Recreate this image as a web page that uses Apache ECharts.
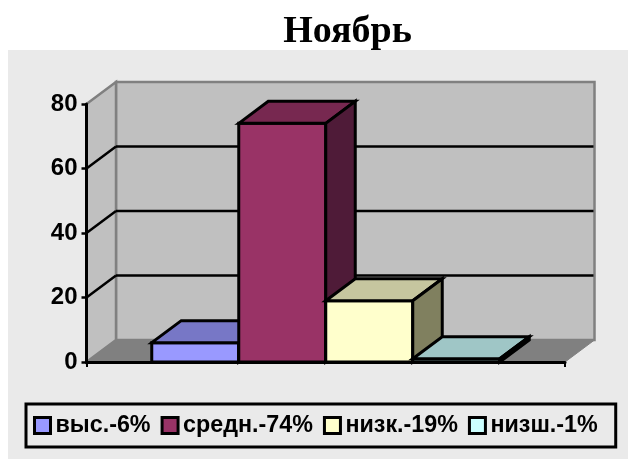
<!DOCTYPE html>
<html>
<head>
<meta charset="utf-8">
<style>
html,body{margin:0;padding:0;background:#fff;}
#main{width:628px;height:460px;}
</style>
<script src="https://cdn.jsdelivr.net/npm/echarts@6/dist/echarts.min.js"></script>
</head>
<body>
<div id="main"></div>
<script>
var titleText = 'Ноябрь';
var category = ['Ноябрь'];
var seriesNames = ['выс.-6%', 'средн.-74%', 'низк.-19%', 'низш.-1%'];
var seriesValues = [6, 74, 19, 1];
var yTicks = [20, 40, 60, 80];

// передняя, верхняя и боковая грани
var frontColors = ['#9999ff', '#993366', '#ffffcc', '#ccffff'];
var topColors = ['#7777c6', '#772850', '#c6c69f', '#9fc6c6'];
var sideColors = ['#5c5c99', '#4f1b38', '#80805f', '#668080'];

var depthX = 29.5;
var depthY = 22;
var barShare = 87 / 478.5;

var chart = echarts.init(document.getElementById('main'));

function poly(points, fill, stroke, width) {
    return {
        type: 'polygon',
        shape: { points: points },
        style: { fill: fill, stroke: stroke, lineWidth: width, lineJoin: 'miter' }
    };
}

function line(x1, y1, x2, y2, stroke, width) {
    return {
        type: 'line',
        shape: { x1: x1, y1: y1, x2: x2, y2: y2 },
        style: { stroke: stroke, lineWidth: width }
    };
}

// стены и пол
function renderWalls(params, api) {
    var left = params.coordSys.x;
    var right = left + params.coordSys.width;
    var y0 = api.coord([0, 0])[1];
    var yMax = api.coord([0, 80])[1];
    var children = [
        poly([[left + depthX, yMax - depthY], [right + depthX, yMax - depthY], [right + depthX, y0 - depthY], [left + depthX, y0 - depthY]], '#c0c0c0', '#808080', 2.5),
        poly([[left, yMax], [left + depthX, yMax - depthY], [left + depthX, y0 - depthY], [left, y0]], '#c0c0c0', '#808080', 2.5),
        poly([[left, y0], [left + depthX, y0 - depthY], [right + depthX, y0 - depthY], [right, y0]], '#808080', '#808080', 1)
    ];
    yTicks.forEach(function (t) {
        if (t === 80) return;
        var y = api.coord([0, t])[1];
        children.push(line(left, y, left + depthX, y - depthY, '#000', 2.5));
        children.push(line(left + depthX, y - depthY, right + depthX - 1, y - depthY, '#000', 2.5));
    });
    return { type: 'group', children: children };
}

function renderBar(idx) {
    return function (params, api) {
        var band = api.size([1, 0])[0];
        var w = band * barShare;
        var cx = api.coord([0, 0])[0];
        var x1 = cx + (idx - 2) * w;
        var x2 = x1 + w;
        var y0 = api.coord([0, 0])[1];
        var y1 = api.coord([0, api.value(1)])[1];
        return {
            type: 'group',
            children: [
                poly([[x1, y1], [x2, y1], [x2, y0], [x1, y0]], frontColors[idx], '#000', 3),
                poly([[x1, y1], [x1 + depthX, y1 - depthY], [x2 + depthX, y1 - depthY], [x2, y1]], topColors[idx], '#000', 3),
                poly([[x2, y1], [x2 + depthX, y1 - depthY], [x2 + depthX, y0 - depthY], [x2, y0]], sideColors[idx], '#000', 3)
            ]
        };
    };
}

var series = [{
    name: 'walls',
    type: 'custom',
    z: 1,
    silent: true,
    renderItem: renderWalls,
    data: [[0, 0]]
}];
seriesNames.forEach(function (name, i) {
    series.push({
        name: name,
        type: 'custom',
        z: 2 + i,
        silent: true,
        itemStyle: { color: frontColors[i] },
        renderItem: renderBar(i),
        encode: { x: 0, y: 1 },
        data: [[0, seriesValues[i]]]
    });
});

var option = {
    animation: false,
    title: {
        text: titleText,
        left: 342.5,
        top: 8,
        textAlign: 'center',
        textStyle: { fontFamily: 'Liberation Serif', fontWeight: 'bold', fontSize: 38, color: '#000' }
    },
    graphic: [{
        type: 'rect',
        z: -1,
        shape: { x: 8, y: 50, width: 620, height: 409 },
        style: { fill: '#eaeaea' }
    }],
    grid: { left: 86.5, right: 63, top: 104, bottom: 98 },
    xAxis: {
        type: 'category',
        data: category,
        axisLabel: { show: false },
        axisLine: { lineStyle: { color: '#000', width: 3 } },
        axisTick: { show: true, length: 5, lineStyle: { color: '#000', width: 2 } },
        z: 10
    },
    yAxis: {
        type: 'value',
        min: 0,
        max: 80,
        interval: 20,
        splitLine: { show: false },
        axisLine: { show: true, lineStyle: { color: '#000', width: 3 } },
        axisTick: { show: true, length: 5, lineStyle: { color: '#000', width: 2.5 } },
        axisLabel: { margin: 9, fontFamily: 'Liberation Sans', fontWeight: 'bold', fontSize: 24, color: '#000' },
        z: 10
    },
    legend: {
        data: seriesNames,
        left: 26,
        top: 404,
        orient: 'horizontal',
        padding: [10, 18, 10, 7],
        itemGap: 10,
        itemWidth: 16,
        itemHeight: 16,
        icon: 'rect',
        itemStyle: { borderColor: '#000', borderWidth: 3 },
        backgroundColor: '#eaeaea',
        borderColor: '#000',
        borderWidth: 3,
        selectedMode: false,
        textStyle: { fontFamily: 'Liberation Sans', fontWeight: 'bold', fontSize: 23.3, color: '#000' }
    },
    series: series
};

chart.setOption(option);
</script>
</body>
</html>
